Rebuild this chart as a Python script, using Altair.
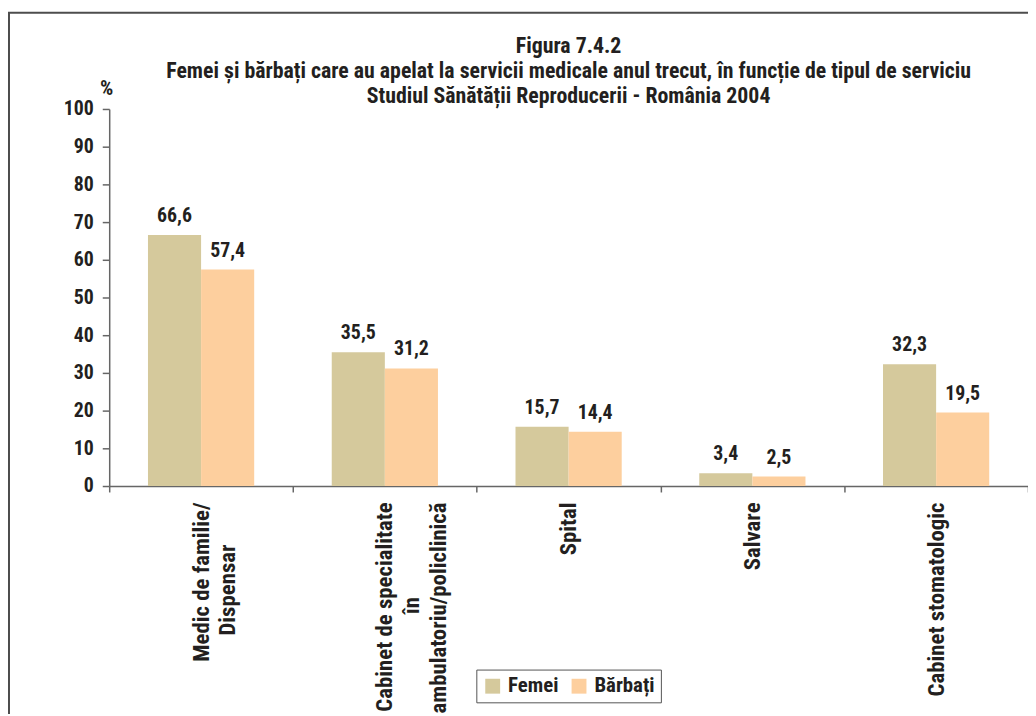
import altair as alt
import pandas as pd

NB = "\u00a0"   # no-break space used to centre short label lines
WJ = "\u2060"   # word joiner keeps the padding from being trimmed

# ---- data ----
categories = [
    "Medic de familie/\nDispensar" + NB * 8 + WJ,
    "Cabinet de specialitate\nîn" + NB * 18 + WJ + "\nambulatoriu/policlinică",
    "Spital",
    "Salvare",
    "Cabinet stomatologic",
]
series = ["Femei", "Bărbați"]
femei = [66.6, 35.5, 15.7, 3.4, 32.3]
barbati = [57.4, 31.2, 14.4, 2.5, 19.5]
colors = ["#D5C99C", "#FDCF9E"]
y_ticks = [0, 10, 20, 30, 40, 50, 60, 70, 80, 90, 100]
title_lines = [
    "Figura 7.4.2",
    "Femei și bărbați care au apelat la servicii medicale anul trecut, în funcție de tipul de serviciu",
    "Studiul Sănătății Reproducerii - România 2004",
]

rows = []
for c, f, b in zip(categories, femei, barbati):
    rows.append({"cat": c, "series": "Femei", "v": f})
    rows.append({"cat": c, "series": "Bărbați", "v": b})
df = pd.DataFrame(rows)

FONT = "Roboto Condensed, Liberation Sans Narrow, Roboto, sans-serif"
TXT = "#231f20"
W, H = 926, 380

x_enc = alt.X(
    "cat:N",
    sort=categories,
    scale=alt.Scale(paddingInner=0, paddingOuter=0),
    axis=alt.Axis(
        title=None,
        labelAngle=270,
        labelAlign="right",
        labelBaseline="middle",
        labelExpr="split(datum.label, '\\n')",
        labelLineHeight=27,
        labelFontSize=23,
        labelPadding=10,
        tickBand="extent",
        tickSize=6,
        labelLimit=400,
    ),
)
xo_enc = alt.XOffset(
    "series:N", sort=series, scale=alt.Scale(paddingInner=0, paddingOuter=0.73)
)
y_enc = alt.Y(
    "v:Q",
    scale=alt.Scale(domain=[0, 100], nice=False),
    axis=alt.Axis(
        values=y_ticks,
        tickCount=11,
        labelOverlap=False,
        title="%",
        titleAngle=0,
        titleAlign="center",
        titleBaseline="alphabetic",
        titleX=-3,
        titleY=-15,
        titleFontSize=21,
        labelFontSize=20,
        tickSize=7,
        labelPadding=9,
        grid=False,
    ),
)

base = alt.Chart(df)

bars = base.mark_bar().encode(
    x=x_enc,
    xOffset=xo_enc,
    y=y_enc,
    color=alt.Color(
        "series:N",
        sort=series,
        scale=alt.Scale(domain=series, range=colors),
        legend=alt.Legend(
            orient="none",
            legendX=370,
            legendY=565,
            direction="horizontal",
            title=None,
            symbolType="square",
            symbolSize=225,
            symbolStrokeWidth=0,
            labelFontSize=21,
            labelOffset=5,
            columnPadding=10,
            padding=6,
            strokeColor="#555555",
        ),
    ),
)

labels = base.transform_calculate(
    lab="replace(format(datum.v, '.1f'), '.', ',')"
).mark_text(baseline="alphabetic", dy=-13, fontSize=20, fontWeight="bold", font=FONT, color=TXT).encode(
    x=x_enc,
    xOffset=xo_enc,
    y=y_enc,
    text="lab:N",
)

one = pd.DataFrame({"k": [0]})
top_line = alt.Chart(one).mark_rule(color="#4d4d4d", strokeWidth=2).encode(
    x=alt.value(-102), x2=alt.value(W), y=alt.value(-97)
)
left_line = alt.Chart(one).mark_rule(color="#4d4d4d", strokeWidth=2).encode(
    x=alt.value(-101), y=alt.value(-97), y2=alt.value(620)
)

chart = (
    alt.layer(top_line, left_line, bars, labels)
    .properties(
        width=W,
        height=H,
        autosize=alt.AutoSizeParams(type="none"),
        padding={"left": 102, "top": 99, "right": 0, "bottom": 227},
        title=alt.TitleParams(
            text=title_lines,
            anchor="middle",
            frame="group",
            fontSize=22,
            lineHeight=25,
            font=FONT,
            fontWeight="bold",
            color=TXT,
            offset=0,
            dy=97,
        ),
    )
    .configure_view(stroke=None)
    .configure_axis(
        labelFont=FONT,
        labelFontWeight="bold",
        labelColor=TXT,
        titleFont=FONT,
        titleFontWeight="bold",
        titleColor=TXT,
        domainColor="#666666",
        tickColor="#666666",
        domainWidth=1.5,
        tickWidth=1.5,
    )
    .configure_legend(labelFont=FONT, labelFontWeight="bold", labelColor=TXT)
)

chart.save("out.html", embed_options={"renderer": "svg", "actions": False})
